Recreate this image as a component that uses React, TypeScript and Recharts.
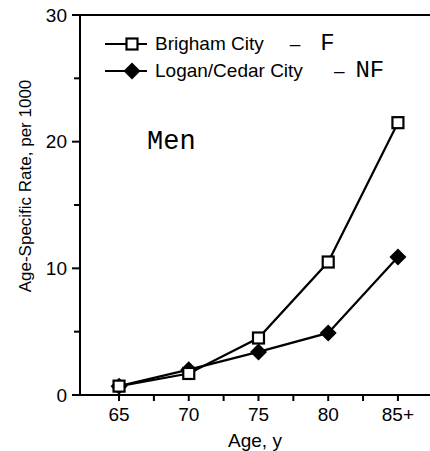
import React from "react";
import { LineChart, Line, XAxis, YAxis, Legend, ReferenceLine } from "recharts";

const ageValues = [65, 70, 75, 80, 85];
const ageLabels = ["65", "70", "75", "80", "85+"];
const brighamRates = [0.7, 1.7, 4.5, 10.5, 21.5];
const loganRates = [0.7, 2.0, 3.4, 4.9, 10.9];
const xTicks = [65, 67.5, 70, 72.5, 75, 77.5, 80, 82.5, 85];
const yTicks = [0, 5, 10, 15, 20, 25, 30];
const yLabeled = [0, 10, 20, 30];

const data = ageValues.map((age, i) => ({ age, brigham: brighamRates[i], logan: loganRates[i] }));

const FONT = "'Liberation Sans', Arial, Helvetica, sans-serif";
const MONO = "'Liberation Mono', 'Courier New', monospace";

// legend rows: series name plus the hand-typed "– F" / "– NF" suffix
const legendRows = [
  { key: "brigham", name: "Brigham City", suffix: "F", dashGap: 26, suffixGap: 20, suffixSize: 24 },
  { key: "logan", name: "Logan/Cedar City", suffix: "NF", dashGap: 31, suffixGap: 11, suffixSize: 24 },
];

const SquareDot = (props: any) => {
  const { cx, cy, index } = props;
  if (cx == null || cy == null) return null;
  return <rect key={`sq-${index}`} x={cx - 5.5} y={cy - 5.5} width={11} height={11} fill="#fff" stroke="#000" strokeWidth={2.2} />;
};

const DiamondDot = (props: any) => {
  const { cx, cy, index } = props;
  if (cx == null || cy == null) return null;
  const r = 8.5;
  return <polygon key={`dm-${index}`} points={`${cx},${cy - r} ${cx + r},${cy} ${cx},${cy + r} ${cx - r},${cy}`} fill="#000" />;
};

// ticks drawn by hand: mark + label (minor ticks get no label)
const XTick = (props: any) => {
  const { x, y, payload } = props;
  const i = ageValues.indexOf(payload.value);
  return (
    <g>
      <line x1={x} y1={y - 13} x2={x} y2={y - 7} stroke="#000" strokeWidth={2} />
      {i >= 0 && (
        <text x={x} y={y} dy="0.71em" textAnchor="middle" fontFamily={FONT} fontSize={19} fill="#000">
          {ageLabels[i]}
        </text>
      )}
    </g>
  );
};

const YTick = (props: any) => {
  const { x, y, payload } = props;
  const major = yLabeled.includes(payload.value);
  return (
    <g>
      <line x1={x + (major ? 5 : 7)} y1={y} x2={x + (payload.value === 0 ? 17 : 13)} y2={y} stroke="#000" strokeWidth={2} />
      {major && (
        <text x={x} y={y} dy="0.355em" textAnchor="end" fontFamily={FONT} fontSize={19} fill="#000">
          {payload.value}
        </text>
      )}
    </g>
  );
};

const LegendIcon = ({ kind }: { kind: string }) => (
  <svg width={44} height={20} style={{ display: "block" }}>
    <line x1={0} y1={10} x2={42} y2={10} stroke="#000" strokeWidth={2.2} />
    {kind === "brigham" ? (
      <rect x={21.5} y={4.5} width={11} height={11} fill="#fff" stroke="#000" strokeWidth={2.2} />
    ) : (
      <polygon points="27,1.5 35.5,10 27,18.5 18.5,10" fill="#000" />
    )}
  </svg>
);

const renderLegend = () => (
  <div style={{ fontFamily: FONT, fontSize: 19, color: "#000" }}>
    {legendRows.map((row) => (
      <div key={row.key} style={{ display: "flex", alignItems: "center", height: 27, whiteSpace: "nowrap" }}>
        <LegendIcon kind={row.key} />
        <span style={{ marginLeft: 6 }}>{row.name}</span>
        <span style={{ marginLeft: row.dashGap }}>–</span>
        <span style={{ marginLeft: row.suffixGap, fontFamily: MONO, fontSize: row.suffixSize }}>{row.suffix}</span>
      </div>
    ))}
  </div>
);

const YTitle = () => (
  <text
    x={25}
    y={186}
    transform="rotate(-90 25 186)"
    textAnchor="middle"
    dominantBaseline="central"
    fontFamily={FONT}
    fontSize={17}
    fill="#000"
  >
    Age-Specific Rate, per 1000
  </text>
);

export default function App() {
  return (
    <div style={{ position: "absolute", left: 0, top: 0, width: 430, height: 451, background: "#fff" }}>
      <LineChart width={430} height={451} data={data} margin={{ top: 15, right: 0, left: 0, bottom: 0 }}>
        <XAxis
          dataKey="age"
          type="number"
          domain={[62.2, 87.3]}
          ticks={xTicks}
          allowDataOverflow
          height={56}
          stroke="#000"
          strokeWidth={2}
          tickSize={5}
          tickMargin={8}
          tickLine={false}
          tick={<XTick />}
          label={{ value: "Age, y", position: "insideBottom", offset: 4, fill: "#000", fontSize: 19, fontFamily: FONT }}
        />
        <YAxis
          type="number"
          domain={[0, 30]}
          ticks={yTicks}
          width={80}
          stroke="#000"
          strokeWidth={2}
          tickSize={8}
          tickMargin={5}
          tickLine={false}
          tick={<YTick />}
          label={<YTitle />}
        />
        <ReferenceLine y={30} stroke="#000" strokeWidth={2} />
        <Legend layout="vertical" align="center" verticalAlign="middle" wrapperStyle={{ left: 105, top: 30, width: "auto" }} content={renderLegend} />
        <Line dataKey="logan" name="Logan/Cedar City" stroke="#000" strokeWidth={2.2} dot={DiamondDot} activeDot={false} isAnimationActive={false} />
        <Line dataKey="brigham" name="Brigham City" stroke="#000" strokeWidth={2.2} dot={SquareDot} activeDot={false} isAnimationActive={false} />
      </LineChart>
      <div style={{ position: "absolute", left: 147, top: 129, fontFamily: MONO, fontSize: 27, lineHeight: "27px", color: "#000" }}>Men</div>
    </div>
  );
}
